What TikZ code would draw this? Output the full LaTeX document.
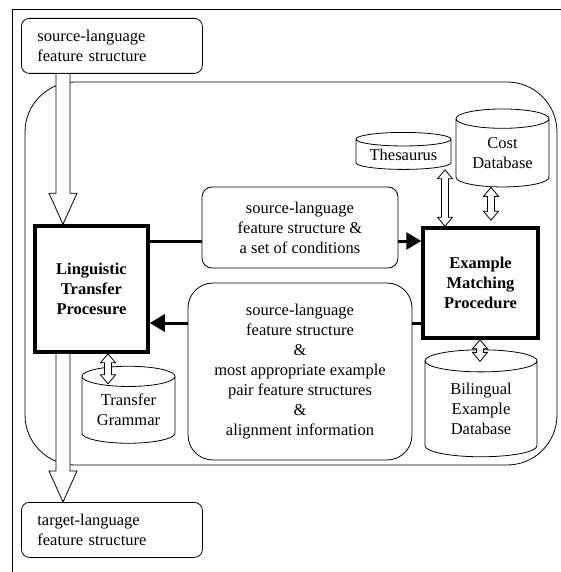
\documentclass[tikz,border=0pt]{standalone}
\usepackage{fontspec}
\setmainfont{Liberation Serif}
\usetikzlibrary{arrows.meta, shapes.geometric, calc}
\tikzset{
    fsbox/.style={draw, fill=white, rounded corners=8pt, minimum width=181pt, minimum height=55pt, text width=149pt, inner xsep=16pt, align=left, font=\fontsize{16.5}{20}\selectfont},
    procbox/.style={draw, fill=white, line width=3.5pt, align=center, font=\fontsize{16.5}{20}\selectfont\bfseries},
    msgbox/.style={draw, fill=white, align=center, font=\fontsize{16.5}{20}\selectfont},
    dbnode/.style={cylinder, shape border rotate=90, draw, fill=white, align=center, inner sep=0pt, font=\fontsize{16.5}{20}\selectfont},
    thickline/.style={line width=3pt},
    thicktip/.style={thickline, -{Triangle[length=15pt,width=17pt]}},
    bigarrow/.style={draw, fill=white, to path={let \p1=(\tikztostart), \p2=(\tikztotarget) in (\x1-7pt,\y1) -- (\x1-7pt,\y2+31pt) -- (\x1-14pt,\y2+31pt) -- (\x1,\y2) -- (\x1+14pt,\y2+31pt) -- (\x1+7pt,\y2+31pt) -- (\x1+7pt,\y1)}},
    twoway/.style={draw, fill=white, to path={let \p1=(\tikztostart), \p2=(\tikztotarget) in (\x1,\y1) -- (\x1+7.5pt,\y1-9pt) -- (\x1+3.5pt,\y1-9pt) -- (\x1+3.5pt,\y2+9pt) -- (\x1+7.5pt,\y2+9pt) -- (\x1,\y2) -- (\x1-7.5pt,\y2+9pt) -- (\x1-3.5pt,\y2+9pt) -- (\x1-3.5pt,\y1-9pt) -- (\x1-7.5pt,\y1-9pt) -- cycle}}
}
\begin{document}
\begin{tikzpicture}[x=1pt, y=-1pt, line width=0.8pt]
\useasboundingbox (0,0) rectangle (560,572);
\draw (12,9) rectangle (600,620);
\draw[rounded corners=50pt] (25,82) rectangle (557,465);

% feature structures in and out
\node[fsbox, anchor=north west] (srcfs) at (21,18) {source-language\\feature structure};
\node[fsbox, anchor=north west] (tgtfs) at (21,502) {target-language\\feature structure};

% the two procedures
\node[procbox, minimum width=113pt, minimum height=126pt] (ltp) at (91.5,289) {Linguistic\\Transfer\\Procesure};
\node[procbox, minimum width=115pt, minimum height=110pt] (emp) at (480.5,283) {Example\\Matching\\Procedure};

% what is passed between them
\node[msgbox, rounded corners=10pt, minimum width=196pt, minimum height=81pt] (cond) at (300,227.5) {source-language\\feature structure \&\\a set of conditions};
\node[msgbox, rounded corners=25pt, minimum width=224pt, minimum height=177pt] (result) at (300,371.5) {source-language\\feature structure\\\&\\most appropriate example\\pair feature structures\\\&\\alignment information};

% databases
\node[dbnode, aspect=0.32, minimum width=93pt, minimum height=77pt] (tgram) at (128.5,410) {Transfer\\Grammar};
\node[dbnode, aspect=0.2, minimum width=95pt, minimum height=37pt] (thes) at (403.5,154.5) {Thesaurus};
\node[dbnode, aspect=0.32, minimum width=93pt, minimum height=78pt] (costdb) at (502.5,153) {Cost\\Database};
\node[dbnode, aspect=0.36, minimum width=112pt, minimum height=107pt] (bidb) at (481,409) {Bilingual\\Example\\Database};

% connectors
\draw[bigarrow] (63,0 |- srcfs.south) to (63,0 |- ltp.north);
\draw[bigarrow] (63,0 |- ltp.south) to (63,0 |- tgtfs.north);
\draw[thickline] (ltp.east |- 0,241) -- (cond.west |- 0,241);
\draw[thicktip] (cond.east |- 0,241) -- (emp.west |- 0,241);
\draw[thickline] (emp.west |- 0,323) -- (result.east |- 0,323);
\draw[thicktip] (result.west |- 0,323) -- (ltp.east |- 0,323);
\draw[twoway] (108,0 |- ltp.south) to ($(108,0 |- tgram.north)+(0,18)$);
\draw[twoway] (445,0 |- thes.south) to (445,0 |- emp.north);
\draw[twoway] (491,0 |- costdb.south) to ($(491,0 |- emp.north)+(0,-6)$);
\draw[twoway] (480,0 |- emp.south) to ($(480,0 |- bidb.north)+(0,12)$);
\end{tikzpicture}
\end{document}
